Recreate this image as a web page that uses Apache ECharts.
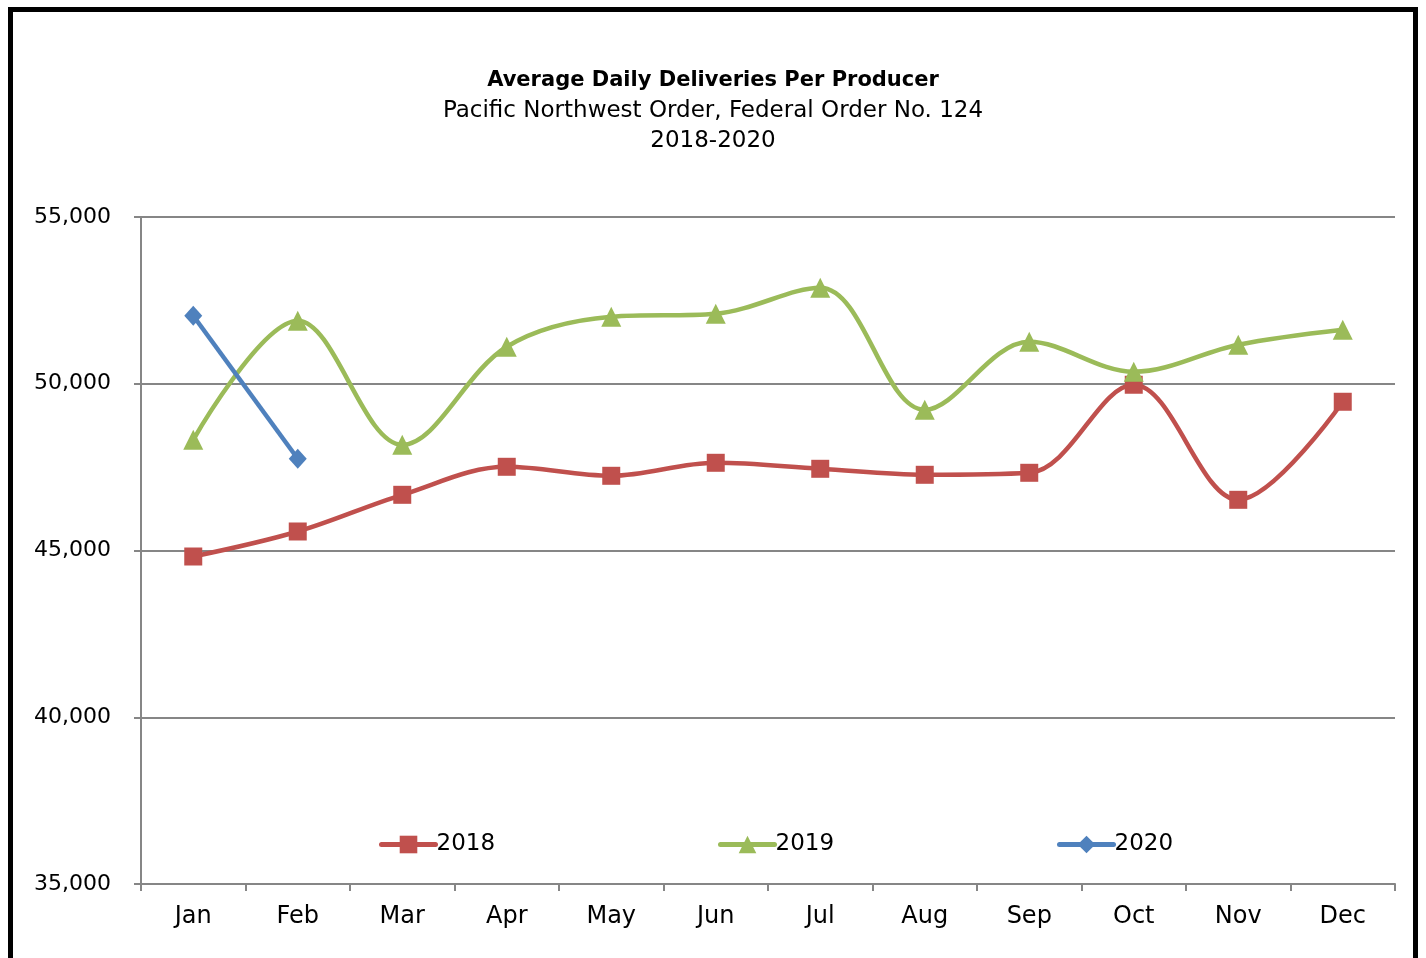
<!DOCTYPE html>
<html>
<head>
<meta charset="utf-8">
<script src="https://cdn.jsdelivr.net/npm/echarts@6/dist/echarts.min.js"></script>
<style>
  html, body { margin: 0; padding: 0; background: #fff; }
  #chart { width: 1426px; height: 958px; }
</style>
</head>
<body>
<div id="chart"></div>
<script>
const months = ['Jan', 'Feb', 'Mar', 'Apr', 'May', 'Jun', 'Jul', 'Aug', 'Sep', 'Oct', 'Nov', 'Dec'];
const values2018 = [44820, 45570, 46670, 47510, 47240, 47630, 47450, 47270, 47330, 49970, 46520, 49460];
const values2019 = [48320, 51890, 48170, 51110, 52010, 52100, 52880, 49220, 51260, 50360, 51170, 51620];
const values2020 = [52040, 47750];

const FONT = 'DejaVu Sans';
const chart = echarts.init(document.getElementById('chart'));

function legendAt(name, left) {
  return {
    data: [name], left: left, top: 828,
    itemWidth: 54, itemHeight: 22, itemGap: 4,
    lineStyle: { width: 5, cap: 'round' },
    textStyle: { fontFamily: FONT, fontSize: 23, color: '#000', padding: [0, 0, 0, -4] }
  };
}

chart.setOption({
  animation: false,
  title: {
    text: 'Average Daily Deliveries Per Producer',
    subtext: 'Pacific Northwest Order, Federal Order No. 124\n2018-2020',
    left: 'center', top: 65, itemGap: 5,
    textStyle: { fontFamily: FONT, fontSize: 21, fontWeight: 'bold', color: '#000' },
    subtextStyle: { fontFamily: FONT, fontSize: 23, color: '#000', lineHeight: 30 }
  },
  legend: [legendAt('2018', 374), legendAt('2019', 713), legendAt('2020', 1052)],
  grid: { left: 141, right: 31, top: 217, bottom: 74 },
  xAxis: {
    type: 'category', data: months, boundaryGap: true,
    axisLine: { lineStyle: { color: '#868686', width: 2 } },
    axisTick: { show: true, length: 7, lineStyle: { color: '#868686', width: 2 } },
    axisLabel: { fontFamily: FONT, fontSize: 24, color: '#000', margin: 21 }
  },
  yAxis: {
    type: 'value', min: 35000, max: 55000, interval: 5000,
    axisLine: { show: true, lineStyle: { color: '#868686', width: 2 } },
    axisTick: { show: true, length: 7, lineStyle: { color: '#868686', width: 2 } },
    splitLine: { lineStyle: { color: '#868686', width: 2 } },
    axisLabel: {
      fontFamily: FONT, fontSize: 22, color: '#000', margin: 30,
      formatter: v => v.toLocaleString('en-US')
    }
  },
  series: [
    {
      name: '2018', type: 'line', data: values2018, smooth: 0.35,
      symbol: 'rect', symbolSize: 18,
      lineStyle: { color: '#C0504D', width: 4.5 },
      itemStyle: { color: '#C0504D' }, z: 2
    },
    {
      name: '2019', type: 'line', data: values2019, smooth: 0.35,
      symbol: 'triangle', symbolSize: 20,
      lineStyle: { color: '#9BBB59', width: 4.5 },
      itemStyle: { color: '#9BBB59' }, z: 3
    },
    {
      name: '2020', type: 'line', data: values2020,
      symbol: 'diamond', symbolSize: [18, 20],
      lineStyle: { color: '#4F81BD', width: 4.5 },
      itemStyle: { color: '#4F81BD' }, z: 4
    }
  ],
  graphic: [{
    type: 'rect', silent: true,
    shape: { x: 10.5, y: 9.5, width: 1405, height: 1000 },
    style: { fill: null, stroke: '#000', lineWidth: 5 }
  }]
});
</script>
</body>
</html>
